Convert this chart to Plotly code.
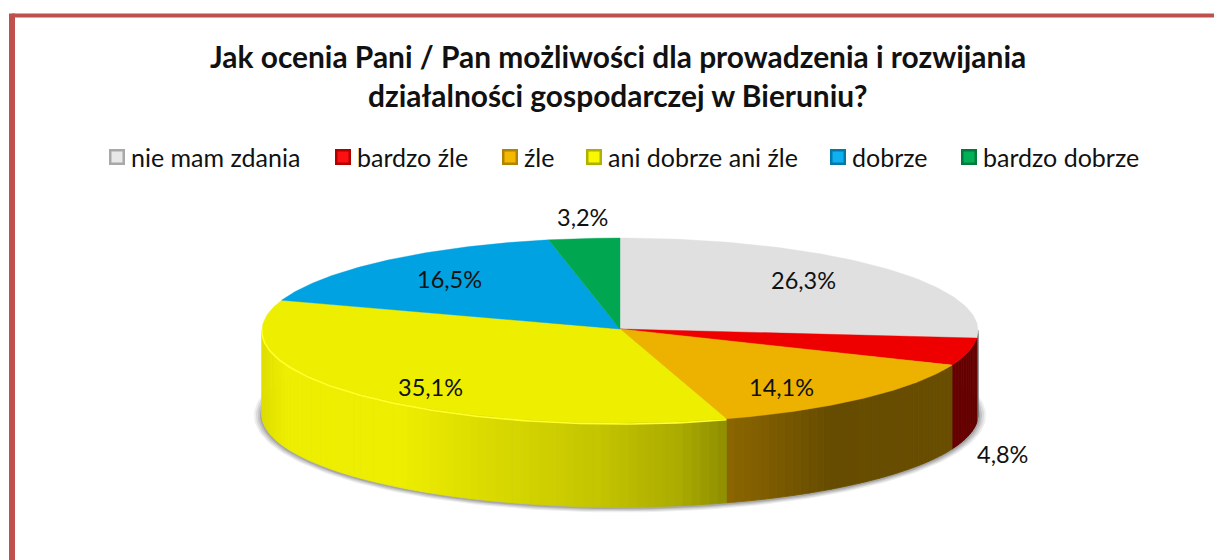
import numpy as np
import plotly.graph_objects as go

categories = ["nie mam zdania", "bardzo źle", "źle", "ani dobrze ani źle", "dobrze", "bardzo dobrze"]
values = [26.3, 4.8, 14.1, 35.1, 16.5, 3.2]
top_colors = ["#e0e0e0", "#ee0000", "#edb100", "#eeee00", "#00a2e2", "#00a650"]
legend_dark = ["#a8a8a8", "#b00000", "#b08400", "#b0b000", "#0078a8", "#007a3c"]
legend_light = ["#e8e8e8", "#ff1010", "#f5b800", "#f8f800", "#10b0f0", "#00b058"]

# wall shading stops: horizontal position in pixels -> colour (per slice)
wall_stops = {
    0: [(900, (110, 110, 110)), (1000, (110, 110, 110))],
    1: [(940, (102, 0, 0)), (1000, (102, 0, 0))],
    2: [(726, (140, 102, 0)), (770, (125, 92, 0)), (830, (102, 76, 0)), (960, (105, 78, 0))],
    3: [(262, (222, 222, 0)), (285, (238, 238, 0)), (400, (238, 238, 0)),
        (470, (222, 222, 0)), (600, (196, 196, 0)), (680, (170, 170, 0)), (726, (142, 142, 0))],
}
label_pos = [(803, 280), (1002, 454), (781, 387), (430, 387), (449, 279), (582, 217)]
legend_x = [117, 343, 510, 594, 838, 969]

CX, CY, A, B, DEPTH = 620, 330.5, 358, 92.5, 84
PIE_W, PIE_H = 1214, 560


def pt(theta, dy=0.0):
    return CX + A * np.sin(theta), CY - B * np.cos(theta) + dy


def wall_color(i, x):
    st = wall_stops[i]
    xs = [s[0] for s in st]
    return "rgb(%d,%d,%d)" % tuple(
        int(round(np.interp(x, xs, [s[1][k] for s in st]))) for k in range(3)
    )


fig = go.Figure()

# soft shadow under the disc
for grow, op in [(8, 0.10), (6, 0.14), (4, 0.18), (2, 0.25)]:
    t = np.linspace(0, 2 * np.pi, 240)
    fig.add_trace(go.Scatter(
        x=CX + (A + grow) * np.sin(t), y=CY + 85 - (B + grow * 0.55) * np.cos(t),
        mode="lines", fill="toself", fillcolor=f"rgba(90,90,90,{op})",
        line=dict(width=0), hoverinfo="skip", showlegend=False))

edges = np.concatenate([[0], np.cumsum(values)]) / sum(values) * 2 * np.pi

# side wall, drawn as narrow shaded strips
for i in range(len(values)):
    lo, hi = max(edges[i], np.pi / 2), min(edges[i + 1], 3 * np.pi / 2)
    if hi <= lo or i not in wall_stops:
        continue
    n = max(3, int((hi - lo) / 0.025))
    ts = np.linspace(lo, hi, n + 1)
    for a0, a1 in zip(ts[:-1], ts[1:]):
        tt = np.linspace(a0, a1, 4)
        xt, yt = pt(tt)
        xb, yb = pt(tt[::-1], DEPTH)
        c = wall_color(i, float(np.mean(xt)))
        fig.add_trace(go.Scatter(
            x=np.r_[xt, xb, xt[0]], y=np.r_[yt, yb, yt[0]],
            mode="lines", fill="toself", fillcolor=c,
            line=dict(width=0.8, color=c), hoverinfo="skip", showlegend=False))

# top face
for i, c in enumerate(top_colors):
    tt = np.linspace(edges[i], edges[i + 1], 90)
    xt, yt = pt(tt)
    fig.add_trace(go.Scatter(
        x=np.r_[CX, xt, CX], y=np.r_[CY - 1.5, yt, CY - 1.5],
        mode="lines", fill="toself", fillcolor=c,
        line=dict(width=0.4, color=c), hoverinfo="skip", showlegend=False))

# bright rim along the yellow front edge
tt = np.linspace(edges[3], 3 * np.pi / 2 + 0.02, 120)
xr, yr = pt(tt, 1)
fig.add_trace(go.Scatter(x=xr, y=yr, mode="lines", line=dict(width=1.6, color="#ffff2a"),
                         hoverinfo="skip", showlegend=False))

# legend keys
for i, name in enumerate(categories):
    fig.add_trace(go.Scatter(
        x=[legend_x[i]], y=[157], mode="markers", name=name, showlegend=False,
        marker=dict(symbol="square", size=16, color=legend_dark[i]), hoverinfo="skip"))
    fig.add_trace(go.Scatter(
        x=[legend_x[i]], y=[157], mode="markers", showlegend=False,
        marker=dict(symbol="square", size=11, color=legend_light[i]), hoverinfo="skip"))
    fig.add_annotation(x=legend_x[i] + 12, y=157, text=name, showarrow=False, xanchor="left",
                       yanchor="middle", font=dict(family="Lato", size=25, color="#111111"))

# data labels
for v, (x, y) in zip(values, label_pos):
    fig.add_annotation(x=x, y=y, text=f"{v:.1f}".replace(".", ",") + "%", showarrow=False,
                       xanchor="center", yanchor="middle",
                       font=dict(family="Lato", size=23.5, color="#111111"))

# title
for txt, y in [("Jak ocenia Pani / Pan możliwości dla prowadzenia i rozwijania", 56),
               ("działalności gospodarczej w Bieruniu?", 95)]:
    fig.add_annotation(x=618, y=y, text=f"<b>{txt}</b>", showarrow=False, xanchor="center",
                       yanchor="middle", font=dict(family="Lato", size=29.9, color="#111111"))

# frame
fig.add_shape(type="line", x0=12, x1=1224, y0=15.5, y1=15.5, xref="x", yref="y",
              line=dict(color="#c0504d", width=4))
fig.add_shape(type="line", x0=12, x1=12, y0=13.5, y1=570, xref="x", yref="y",
              line=dict(color="#c0504d", width=6))

fig.update_layout(
    width=PIE_W, height=PIE_H, margin=dict(l=0, r=0, t=0, b=0), autosize=False,
    paper_bgcolor="white", plot_bgcolor="white", showlegend=False,
    xaxis=dict(range=[0, PIE_W], visible=False, fixedrange=True),
    yaxis=dict(range=[PIE_H, 0], visible=False, fixedrange=True),
)
fig.write_html("out.html", config=dict(displayModeBar=False),
               post_script="document.body.style.margin='0';document.body.style.overflow='hidden';")
